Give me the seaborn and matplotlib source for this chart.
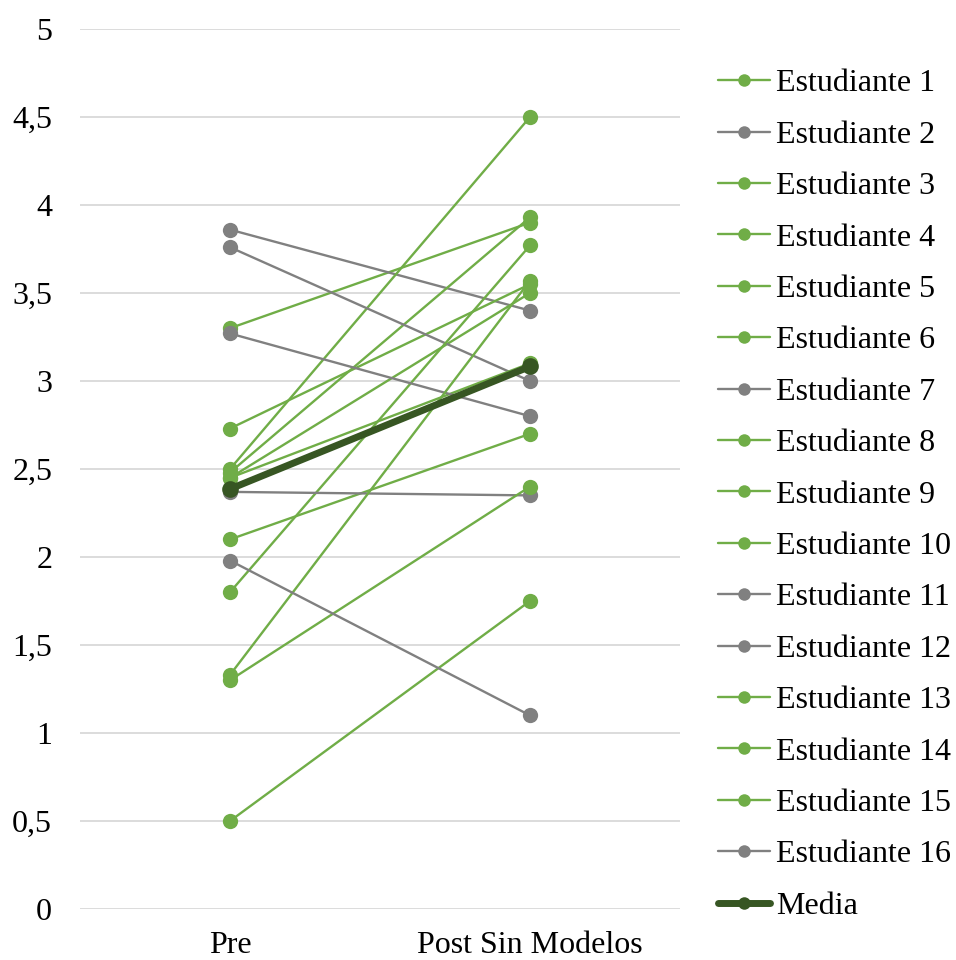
import matplotlib
matplotlib.use("Agg")
import matplotlib.pyplot as plt
import seaborn as sns
import pandas as pd
import numpy as np
from matplotlib.lines import Line2D

categories = ["Pre", "Post Sin Modelos"]
students = [f"Estudiante {i}" for i in range(1, 17)]
pre_vals = [3.30, 3.86, 2.73, 2.50, 2.48, 2.45, 3.76, 2.45, 2.10, 1.80, 3.27, 2.37, 1.33, 1.30, 0.50, 1.98]
post_vals = [3.90, 3.40, 3.55, 4.50, 3.93, 3.50, 3.00, 3.10, 2.70, 3.77, 2.80, 2.35, 3.57, 2.40, 1.75, 1.10]
gray_students = [2, 7, 11, 12, 16]
mean_label = "Media"

GREEN = "#70AD47"
GRAY = "#808080"
DARK = "#375623"

rows = []
for s, a, b in zip(students, pre_vals, post_vals):
    rows.append({"student": s, "fase": categories[0], "pos": 0, "valor": a})
    rows.append({"student": s, "fase": categories[1], "pos": 1, "valor": b})
df = pd.DataFrame(rows)
mean_df = df.groupby("pos", as_index=False)["valor"].mean()

palette = {s: (GRAY if (i + 1) in gray_students else GREEN) for i, s in enumerate(students)}

sns.set_theme(style="white")
plt.rcParams["font.family"] = ["Liberation Serif", "DejaVu Serif"]
plt.rcParams["text.color"] = "black"

fig = plt.figure(figsize=(9.56, 9.6), dpi=100)
ax = fig.add_axes([80 / 956, 1 - 909 / 960, 600 / 956, 880 / 960])

sns.lineplot(data=df, x="pos", y="valor", hue="student", palette=palette,
             hue_order=students, marker="o", markersize=11, markeredgewidth=0,
             linewidth=1.7, legend=False, ax=ax, estimator=None, sort=False)
sns.lineplot(data=mean_df, x="pos", y="valor", color=DARK, marker="o",
             markersize=12, markeredgewidth=0, linewidth=5, legend=False, ax=ax)

ax.set_xlim(-0.5, 1.5)
ax.set_ylim(0, 5)
ax.set_xticks([0, 1])
ax.set_xticklabels(categories)
yt = np.arange(0, 5.01, 0.5)
ax.set_yticks(yt)
ax.set_yticklabels([f"{v:g}".replace(".", ",") for v in yt])
ax.set_xlabel("")
ax.set_ylabel("")
ax.grid(axis="y", color="#d9d9d9", linewidth=1.3)
ax.grid(axis="x", visible=False)
for sp in ax.spines.values():
    sp.set_visible(False)
ax.tick_params(axis="both", length=0, labelsize=23, colors="black")
ax.tick_params(axis="y", pad=20)
ax.tick_params(axis="x", pad=16)
ax.set_axisbelow(True)

handles = []
for s in students:
    handles.append(Line2D([0], [0], color=palette[s], marker="o", markersize=9,
                          markeredgewidth=0, linewidth=1.7, label=s))
handles.append(Line2D([0], [0], color=DARK, marker="o", markersize=9,
                      markeredgewidth=0, linewidth=5, label=mean_label))
leg = fig.legend(handles=handles, loc="upper left", bbox_to_anchor=(718 / 956, 1 - 69 / 960),
                 frameon=False, fontsize=23, handlelength=1.63, handletextpad=0.2,
                 labelspacing=0.69, borderaxespad=0, borderpad=0)
for t in leg.get_texts():
    t.set_color("black")

fig.savefig("out.png", dpi=100)
